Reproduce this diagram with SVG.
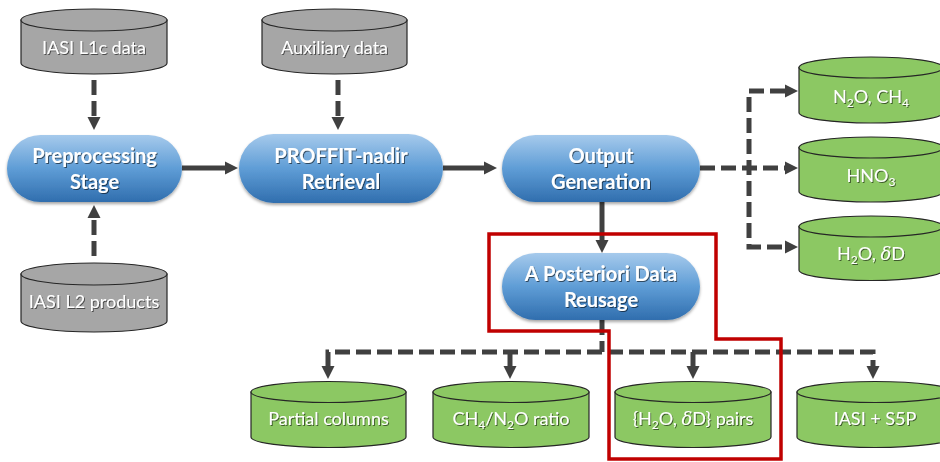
<svg xmlns="http://www.w3.org/2000/svg" width="940" height="462" viewBox="0 0 940 462">
  <defs>
    <linearGradient id="pillFill" x1="0" y1="0" x2="0" y2="1">
      <stop offset="0" stop-color="#A6CAEC"/>
      <stop offset="0.5" stop-color="#5F9DD6"/>
      <stop offset="1" stop-color="#306EAE"/>
    </linearGradient>
    <filter id="pillShadow" x="-10%" y="-20%" width="120%" height="150%">
      <feDropShadow dx="0" dy="2" stdDeviation="1.5" flood-color="#000" flood-opacity="0.35"/>
    </filter>
    <filter id="textShadow" x="-10%" y="-30%" width="120%" height="160%">
      <feDropShadow dx="1" dy="1" stdDeviation="0.7" flood-color="#000" flood-opacity="0.55"/>
    </filter>
    <marker id="head" markerUnits="userSpaceOnUse" markerWidth="14" markerHeight="14" refX="0" refY="7" orient="auto-start-reverse">
      <path d="M0,0.5 L13,7 L0,13.5 Z" fill="#404040"/>
    </marker>
    <style>
      .pill { fill: url(#pillFill); filter: url(#pillShadow); }
      .ptext { font-family: Lato, "Liberation Sans", sans-serif; font-weight: bold; font-size: 20px; fill: #fff; text-anchor: middle; filter: url(#textShadow); }
      .ctext { font-family: Lato, "Liberation Sans", sans-serif; font-size: 18px; fill: #fff; text-anchor: middle; filter: url(#textShadow); }
      .sub { font-size: 12px; }
      .greek { font-family: "DejaVu Serif", "Liberation Serif", serif; font-style: italic; }
      .gray { fill: #A6A6A6; stroke: #262626; stroke-width: 1.2; }
      .green { fill: #8CC863; stroke: #262626; stroke-width: 1.2; }
      .solid { fill: none; stroke: #404040; stroke-width: 5; marker-end: url(#head); }
      .dash { fill: none; stroke: #404040; stroke-width: 5; stroke-dasharray: 15 6; }
      .tip { marker-end: url(#head); }
      .tips { marker-start: url(#head); marker-end: url(#head); }
      .frame { fill: none; stroke: #C00000; stroke-width: 3.5; }
    </style>
  </defs>

  <!-- connectors -->
  <g id="connectors">
    <path class="dash tip" d="M94,80 V117"/>
    <path class="dash tip" d="M338,80 V117"/>
    <path class="dash tip" d="M94,256 V218"/>
    <path class="solid" d="M182,168 H225"/>
    <path class="solid" d="M443,168 H484"/>
    <path class="solid" d="M602,202 V240"/>
    <path class="dash tip" d="M700,168 H785"/>
    <path class="dash tips" d="M785,91 H749 V247 H785"/>
    <path class="dash" d="M602,320 V352"/>
    <path class="dash tips" d="M328,366 V352 H873 V366"/>
    <path class="dash tip" d="M510,352 V366"/>
    <path class="dash tip" d="M693,352 V366"/>
  </g>

  <!-- process stages -->
  <g id="preprocessing">
    <rect class="pill" x="7" y="135" width="175" height="67" rx="33.5"/>
    <text class="ptext" x="94.5" y="163">Preprocessing</text>
    <text class="ptext" x="94.5" y="189">Stage</text>
  </g>
  <g id="proffit">
    <rect class="pill" x="239" y="134" width="204" height="69" rx="34.5"/>
    <text class="ptext" x="341" y="163">PROFFIT-nadir</text>
    <text class="ptext" x="341" y="189">Retrieval</text>
  </g>
  <g id="output">
    <rect class="pill" x="502" y="135" width="198" height="67" rx="33.5"/>
    <text class="ptext" x="601" y="163">Output</text>
    <text class="ptext" x="601" y="189">Generation</text>
  </g>
  <g id="reuse">
    <rect class="pill" x="502" y="253" width="198" height="67" rx="33.5"/>
    <text class="ptext" x="601" y="281">A Posteriori Data</text>
    <text class="ptext" x="601" y="307">Reusage</text>
  </g>

  <!-- input data stores -->
  <g id="iasi-l1c">
    <path class="gray" d="M21,20 V63 A73,11 0 0 0 167,63 V20 Z"/>
    <ellipse class="gray" cx="94" cy="20" rx="73" ry="11"/>
    <text class="ctext" x="94" y="54">IASI L1c data</text>
  </g>
  <g id="auxiliary">
    <path class="gray" d="M262,20 V63 A72.5,11 0 0 0 407,63 V20 Z"/>
    <ellipse class="gray" cx="334.5" cy="20" rx="72.5" ry="11"/>
    <text class="ctext" x="334.5" y="54">Auxiliary data</text>
  </g>
  <g id="iasi-l2">
    <path class="gray" d="M21,274 V321 A73,11 0 0 0 167,321 V274 Z"/>
    <ellipse class="gray" cx="94" cy="274" rx="73" ry="11"/>
    <text class="ctext" x="94" y="308">IASI L2 products</text>
  </g>

  <!-- output products -->
  <g id="n2o-ch4">
    <path class="green" d="M799,67.5 V112.5 A72,10.5 0 0 0 943,112.5 V67.5 Z"/>
    <ellipse class="green" cx="871" cy="67.5" rx="72" ry="10.5"/>
    <text class="ctext" x="871" y="103">N<tspan class="sub" dy="4">2</tspan><tspan dy="-4">O, CH</tspan><tspan class="sub" dy="4">4</tspan></text>
  </g>
  <g id="hno3">
    <path class="green" d="M799,147.5 V191.5 A72,10.5 0 0 0 943,191.5 V147.5 Z"/>
    <ellipse class="green" cx="871" cy="147.5" rx="72" ry="10.5"/>
    <text class="ctext" x="871" y="182">HNO<tspan class="sub" dy="4">3</tspan></text>
  </g>
  <g id="h2o-dd">
    <path class="green" d="M799,226.5 V270 A72,10.5 0 0 0 943,270 V226.5 Z"/>
    <ellipse class="green" cx="871" cy="226.5" rx="72" ry="10.5"/>
    <text class="ctext" x="871" y="260">H<tspan class="sub" dy="4">2</tspan><tspan dy="-4">O, </tspan><tspan class="greek">δ</tspan>D</text>
  </g>

  <!-- reused products -->
  <g id="partial-columns">
    <path class="green" d="M251,392 V437 A77.5,10.5 0 0 0 406,437 V392 Z"/>
    <ellipse class="green" cx="328.5" cy="392" rx="77.5" ry="10.5"/>
    <text class="ctext" x="328.5" y="425">Partial columns</text>
  </g>
  <g id="ch4-n2o-ratio">
    <path class="green" d="M433,392 V437 A78,10.5 0 0 0 589,437 V392 Z"/>
    <ellipse class="green" cx="511" cy="392" rx="78" ry="10.5"/>
    <text class="ctext" x="511" y="425">CH<tspan class="sub" dy="4">4</tspan><tspan dy="-4">/N</tspan><tspan class="sub" dy="4">2</tspan><tspan dy="-4">O ratio</tspan></text>
  </g>
  <g id="h2o-dd-pairs">
    <path class="green" d="M615,392 V437 A78,10.5 0 0 0 771,437 V392 Z"/>
    <ellipse class="green" cx="693" cy="392" rx="78" ry="10.5"/>
    <text class="ctext" x="693" y="425">{H<tspan class="sub" dy="4">2</tspan><tspan dy="-4">O, </tspan><tspan class="greek">δ</tspan>D} pairs</text>
  </g>
  <g id="iasi-s5p">
    <path class="green" d="M797,392 V437 A78,10.5 0 0 0 953,437 V392 Z"/>
    <ellipse class="green" cx="875" cy="392" rx="78" ry="10.5"/>
    <text class="ctext" x="875" y="425">IASI + S5P</text>
  </g>

  <!-- highlight outline -->
  <g id="highlight">
    <path class="frame" d="M489,234 H716 V339 H781 V459 H609 V331 H489 Z"/>
  </g>
</svg>
